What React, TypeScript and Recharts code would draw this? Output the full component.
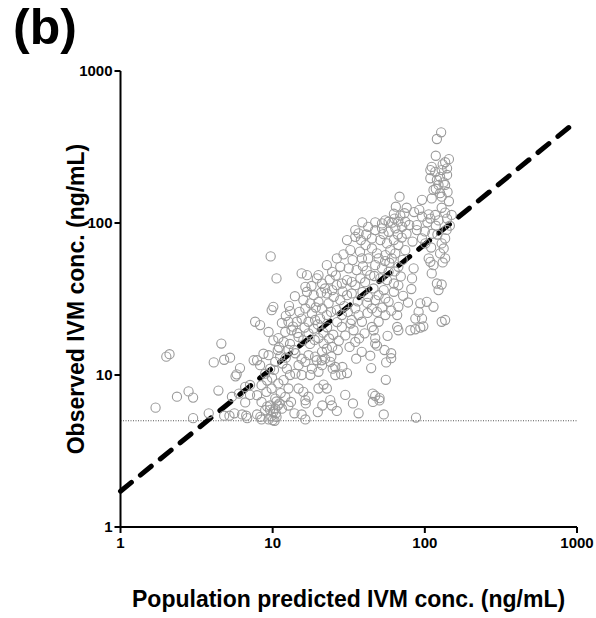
import { ScatterChart, Scatter, XAxis, YAxis, ReferenceLine } from "recharts";

// observed vs population-predicted IVM concentrations, [pred, obs] in ng/mL
const LOW_PAIRS: [number, number][] = [
  [1.7, 6.1], [2.0, 13.2], [2.1, 13.7], [2.35, 7.2], [2.8, 7.8], [3.0, 7.1], [3.0, 5.2], [3.8, 5.6],
  [4.4, 7.9], [4.1, 12.1], [4.6, 16.1], [4.8, 12.6], [5.25, 13.0], [4.8, 5.4], [5.2, 5.4], [5.6, 5.6],
  [6.3, 5.5], [6.7, 5.4], [6.8, 5.2], [5.4, 7.2], [6.0, 7.55], [6.1, 11.1], [5.8, 10.1], [5.7, 9.8],
  [6.6, 6.6], [6.6, 8.35], [7.1, 8.6], [7.1, 7.4], [7.5, 12.5],
];

const LLOQ_PAIRS: [number, number][] = [
  [7.9, 5.5], [8.3, 5.3], [8.45, 5.1], [9.4, 5.1], [10.0, 5.04], [10.3, 5.0], [9.2, 6.2], [9.6, 5.9],
  [10.4, 6.0], [10.8, 6.3], [11.1, 6.5], [13.2, 6.65], [13.9, 5.6], [15.5, 5.5], [16.4, 5.1], [16.5, 6.5],
  [19.8, 5.7], [21.2, 6.3], [26.4, 5.8], [33.7, 6.5], [36.7, 5.6], [45.6, 6.65], [50.3, 6.8], [53.7, 5.5],
  [87.5, 5.25],
];

const TEN_COLUMN: [number, number][] = [
  [7.9, 12.5], [8.27, 11.6], [8.93, 10.2], [9.63, 11.0], [10.4, 12.2], [11.2, 13.2], [12.4, 11.0], [13.0, 10.0],
  [8.45, 8.57], [9.1, 7.75], [9.85, 8.15], [10.9, 8.8], [11.8, 9.25], [12.7, 8.15], [10.4, 7.0], [9.63, 6.3],
  [8.93, 5.87], [10.1, 5.72], [10.6, 5.3], [12.1, 7.18], [12.7, 6.3], [11.5, 6.0], [8.45, 6.65], [7.9, 7.36],
  [8.27, 21.3], [9.4, 19.2], [10.1, 16.9], [10.9, 17.5], [11.8, 16.5], [12.1, 19.2], [13.3, 19.7], [14.8, 17.8],
  [15.9, 16.9], [17.2, 18.8], [18.6, 20.2], [20.0, 17.5], [21.6, 16.1], [22.7, 14.9], [24.6, 15.3], [21.1, 14.2],
  [19.0, 13.2], [17.2, 13.5], [15.5, 12.8], [14.1, 13.9], [12.7, 14.6], [14.8, 11.6], [16.4, 12.2], [18.1, 11.0],
  [19.5, 12.5], [21.1, 11.6], [23.9, 12.2], [25.8, 11.3], [17.7, 10.0], [15.5, 10.0], [20.0, 10.5], [14.1, 10.2],
  [9.9, 9.6], [10.2, 10.8], [9.4, 13.5], [10.8, 14.6], [11.6, 11.9], [9.2, 9.2], [10.6, 6.7], [11.3, 7.6],
  [9.8, 5.35], [10.5, 5.6], [8.7, 13.8], [12.2, 13.0],
];

const MID_LOW: [number, number][] = [
  [20.0, 8.15], [21.6, 8.65], [22.7, 8.15], [23.9, 6.83], [24.5, 6.3], [30.0, 7.4], [16.4, 6.83], [17.2, 7.2],
  [14.8, 8.15], [15.9, 7.75], [25.8, 10.0], [28.2, 10.1], [30.8, 10.3], [24.8, 11.0], [28.7, 11.3], [32.0, 15.3],
  [34.9, 16.5], [35.4, 12.8], [37.0, 17.4], [26.8, 14.6], [24.3, 13.2], [22.1, 12.8], [21.0, 12.5], [28.5, 20.7],
  [34.0, 19.7], [43.8, 13.4], [44.4, 11.1], [47.2, 16.1], [48.5, 15.6], [47.2, 17.5], [46.1, 19.7], [44.9, 20.7],
  [56.9, 18.1], [54.3, 14.6], [60.1, 13.9], [60.1, 12.9], [55.7, 12.1], [55.4, 9.3], [45.4, 7.55], [47.2, 7.3],
  [50.4, 7.05], [67.0, 19.7], [65.8, 20.7], [80.3, 19.7], [86.6, 20.0], [93.4, 20.5], [97.7, 20.9],
];

const MID_BAND: [number, number][] = [
  [9.7, 60.3], [10.6, 43.2], [10.1, 28.1], [9.85, 26.7], [13.0, 26.3], [7.67, 22.4], [34.9, 89.8], [36.7, 85.5],
  [34.9, 81.1], [30.8, 77.2], [32.4, 66.3], [26.4, 58.5], [22.7, 52.8], [27.8, 51.5], [24.6, 47.7], [31.6, 50.3],
  [35.6, 49.0], [38.6, 58.5], [15.5, 46.6], [16.8, 45.4], [20.0, 45.4], [19.5, 43.2], [16.4, 38.0], [16.8, 35.3],
  [18.6, 33.5], [21.1, 40.0], [22.1, 37.1], [22.7, 34.4], [24.6, 36.2], [26.4, 39.0], [28.5, 40.0], [30.8, 42.1],
  [33.1, 41.0], [34.9, 39.0], [37.7, 43.2], [15.9, 31.1], [17.7, 29.6], [20.0, 30.3], [21.1, 27.4], [23.3, 29.6],
  [25.2, 32.7], [27.8, 31.1], [30.8, 33.5], [33.1, 34.4], [16.4, 27.4], [18.1, 25.4], [20.5, 23.5], [19.0, 23.0],
  [22.7, 24.8], [17.2, 22.4], [15.5, 23.5], [14.4, 22.4], [12.7, 22.4], [34.9, 27.4], [36.7, 24.8], [33.1, 23.0],
  [38.6, 22.4], [28.5, 24.8], [26.4, 26.7], [38.8, 101],
  [11.5, 22.0], [12.2, 24.5], [13.6, 20.8], [14.5, 18.9], [11.0, 15.2], [13.0, 16.0], [12.8, 28.5], [14.0, 33.0],
  [15.0, 26.0], [13.8, 14.6], [16.2, 20.5], [17.6, 16.0], [18.9, 17.0], [19.8, 21.5], [21.5, 19.0], [22.8, 20.6],
  [23.5, 17.4], [25.0, 18.4], [26.5, 22.3], [24.2, 26.0], [19.2, 27.8], [18.0, 38.5], [20.8, 34.8], [23.7, 42.5],
  [26.0, 45.2], [28.8, 35.5], [29.5, 28.4], [31.2, 26.0], [30.0, 18.2], [32.5, 21.8], [27.2, 16.8],
];

const HIGH_BAND: [number, number][] = [
  [103, 30.3], [93.4, 29.6], [114, 28.1], [91, 26.0], [95.8, 23.5], [86.6, 23.5], [129, 22.4], [136, 23.0],
  [67.0, 28.1], [88.6, 89.8], [95.8, 79.2], [100.7, 73.4], [88.6, 96.9], [129, 73.4], [133, 68], [136, 79.2],
  [126, 63.1], [136, 58.5], [131, 55], [106, 58.5], [108.7, 55.5], [114, 52.8], [84.4, 50.3], [82.4, 43.2],
  [111, 46.6], [120, 40], [129, 39.4], [123, 36.2], [74.4, 66.3], [49.7, 58.5], [67.0, 38.9], [62.6, 35.3],
  [55, 31.9], [57.8, 30.3], [47.2, 31.1], [44.9, 27.4], [48.5, 26.0], [55.0, 24.8], [65.8, 24.8], [49.7, 22.4],
  [42.4, 94.4], [47.2, 89.8], [52.3, 92.2], [57.8, 87.5], [64, 92.2], [71.0, 94.4], [44.9, 79.2], [51.0, 77.2],
  [56.4, 73.4], [62.6, 77.2], [67.0, 71.6], [59.3, 66.3], [64.0, 63.1], [55.0, 61.5], [60.6, 58.5], [44.9, 68.0],
  [48.5, 63.1], [42.4, 58.5], [47.2, 52.8], [52.3, 50.3], [57.8, 47.7], [67.0, 51.5], [43.8, 45.4], [51.0, 43.2],
  [56.4, 42.1], [62.6, 40.0], [46.0, 37.1], [53.7, 36.2], [42.4, 32.7], [49.7, 33.5],
  [36.2, 30.5], [38.9, 35.2], [40.5, 40.8], [41.5, 48.6], [39.2, 52.0], [37.5, 64.8], [40.8, 71.5], [38.0, 77.2],
  [41.2, 84.0], [33.5, 57.0], [29.2, 62.2], [42.0, 25.6], [40.2, 18.8], [38.5, 14.2], [41.8, 29.8],
  [58.5, 54.8], [63.5, 48.0], [69.5, 44.5], [71.5, 57.2], [75.8, 85.0], [79.0, 97.0], [83.0, 75.5], [60.2, 26.5],
  [52.5, 27.8], [72.0, 33.2], [77.5, 30.0], [81.5, 36.8], [70.5, 80.2], [53.5, 84.5], [61.0, 100.5], [66.5, 84.0],
  [46.5, 44.8], [54.8, 56.2],
];

const TOP_CLUSTER: [number, number][] = [
  [128, 395], [120, 357], [118, 277], [144, 263], [136, 251], [131, 243], [140, 229], [111, 234],
  [108.7, 223], [129, 223], [117, 217], [140, 207], [126, 201], [108.7, 197], [120, 192], [133, 185],
  [123, 178], [136, 178], [114, 165], [126, 157], [129, 149], [111, 145], [144, 139], [129, 126],
  [136, 117], [117, 113], [123, 104], [95.8, 142], [92, 122], [106, 114], [108.7, 107], [140, 107],
  [150, 113], [68.2, 149], [64.5, 128], [76.0, 126], [73.5, 116], [69.0, 112], [62.6, 115], [63.2, 107],
  [55.0, 104], [57.8, 102], [47.2, 101], [52.3, 99.4], [67.0, 102], [74.4, 102],
  [100, 88], [112, 85], [118, 96], [96, 110], [85, 118], [141, 160], [118, 168], [104, 101],
  [146, 96], [139, 90], [121, 84], [110, 69],
];

const AXIS_TICKS = [1, 10, 100, 1000];
const LLOQ = 5;
// fitted trend line end points
const FIT_LINE = [
  { x: 1, y: 1.72 },
  { x: 1000, y: 470 },
];

const points = [...LOW_PAIRS, ...LLOQ_PAIRS, ...TEN_COLUMN, ...MID_LOW, ...MID_BAND, ...HIGH_BAND, ...TOP_CLUSTER].map(
  ([x, y]) => ({ x, y }),
);

const FONT = '"Liberation Sans", Arial, Helvetica, sans-serif';
const tickStyle = { fill: "#000", fontSize: 15, fontWeight: 700, fontFamily: FONT };
const titleStyle = { fill: "#000", fontSize: 23, fontWeight: 700, fontFamily: FONT };

function HollowDot(props: any) {
  return <circle cx={props.cx} cy={props.cy} r={4.6} fill="none" stroke="#9a9a9a" strokeWidth={1.1} />;
}

export default function App() {
  return (
    <div style={{ position: "absolute", left: 0, top: 0, width: 596, height: 618, background: "#fff" }}>
      <ScatterChart width={596} height={618} margin={{ top: 71, right: 19, bottom: 61, left: 60 }}>
        <XAxis
          type="number"
          dataKey="x"
          scale="log"
          domain={[1, 1000]}
          ticks={AXIS_TICKS}
          interval={0}
          allowDataOverflow
          height={30}
          axisLine={{ stroke: "#000", strokeWidth: 2 }}
          tickLine={{ stroke: "#000", strokeWidth: 2 }}
          tickSize={6}
          tickMargin={4}
          tick={tickStyle}
          label={() => (
            <text x={348.6} y={607} textAnchor="middle" style={titleStyle}>
              Population predicted IVM conc. (ng/mL)
            </text>
          )}
        />
        <YAxis
          type="number"
          dataKey="y"
          scale="log"
          domain={[1, 1000]}
          ticks={AXIS_TICKS}
          interval={0}
          allowDataOverflow
          width={60.5}
          axisLine={{ stroke: "#000", strokeWidth: 2 }}
          tickLine={{ stroke: "#000", strokeWidth: 2 }}
          tickSize={6}
          tickMargin={2}
          tick={tickStyle}
          label={() => (
            <text x={84} y={299} transform="rotate(-90 84 299)" textAnchor="middle" style={titleStyle}>
              Observed IVM conc. (ng/mL)
            </text>
          )}
        />
        <ReferenceLine y={LLOQ} stroke="#555" strokeWidth={1} strokeDasharray="1 1.5" />
        <Scatter data={points} shape={HollowDot} isAnimationActive={false} />
        <ReferenceLine
          segment={FIT_LINE}
          stroke="#000"
          strokeWidth={5}
          strokeDasharray="14 11.6"
          strokeLinecap="round"
        />
      </ScatterChart>
      <svg width={120} height={60} style={{ position: "absolute", left: 0, top: 0 }}>
        <text x={13} y={44} style={{ fill: "#000", fontSize: 50, fontWeight: 700, fontFamily: FONT }}>
          (b)
        </text>
      </svg>
    </div>
  );
}
